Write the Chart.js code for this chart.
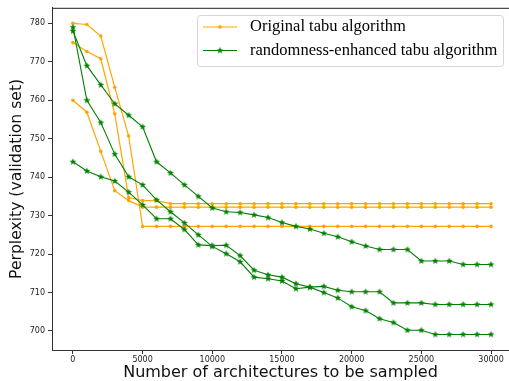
<!DOCTYPE html>
<html>
<head>
<meta charset="utf-8">
<script src="https://cdn.jsdelivr.net/npm/chart.js@4.4.1/dist/chart.umd.min.js"></script>
<style>
	html, body { margin: 0; padding: 0; background: #fff; }
	#wrap { width: 509px; height: 381px; }
</style>
</head>
<body>
<div id="wrap"><canvas id="chart" width="509" height="381"></canvas></div>
<script>
	// samples drawn (x axis)
	let steps = [0, 1000, 2000, 3000, 4000, 5000, 6000, 7000, 8000, 9000, 10000,
		11000, 12000, 13000, 14000, 15000, 16000, 17000, 18000, 19000, 20000,
		21000, 22000, 23000, 24000, 25000, 26000, 27000, 28000, 29000, 30000]

	// original tabu runs
	let tabuA = [780, 779.7, 776.7, 763.4, 750.7, 727.2, 727.2, 727.2, 727.2, 727.2, 727.2,
		727.2, 727.2, 727.2, 727.2, 727.2, 727.2, 727.2, 727.2, 727.2, 727.2,
		727.2, 727.2, 727.2, 727.2, 727.2, 727.2, 727.2, 727.2, 727.2, 727.2]
	let tabuB = [775, 772.7, 770.8, 756.5, 734.7, 733.9, 733.9, 733.1, 733.1, 733.1, 733.1,
		733.1, 733.1, 733.1, 733.1, 733.1, 733.1, 733.1, 733.1, 733.1, 733.1,
		733.1, 733.1, 733.1, 733.1, 733.1, 733.1, 733.1, 733.1, 733.1, 733.1]
	let tabuC = [760, 756.9, 746.7, 736.5, 733.9, 732.2, 732.2, 732.2, 732.2, 732.2, 732.2,
		732.2, 732.2, 732.2, 732.2, 732.2, 732.2, 732.2, 732.2, 732.2, 732.2,
		732.2, 732.2, 732.2, 732.2, 732.2, 732.2, 732.2, 732.2, 732.2, 732.2]

	// randomness-enhanced runs
	let randA = [778, 769, 764, 759.1, 756.1, 753.1, 744, 741.1, 738, 735, 732,
		731, 730.8, 730.2, 729.5, 728.2, 727.2, 726.5, 725.4, 724.5, 723.2,
		722.1, 721.2, 721.2, 721.2, 718.2, 718.2, 718.2, 717.3, 717.3, 717.3]
	let randB = [779, 760, 754.2, 746, 740.1, 738, 734.1, 731, 728.1, 725, 722,
		720.1, 718, 714, 713.6, 713, 711, 711.4, 710, 708.6, 706.3,
		705.3, 703.2, 702.2, 700.2, 700.2, 699.1, 699.1, 699.1, 699.1, 699.1]
	let randC = [744, 741.6, 740.1, 739, 736.1, 732.8, 729.2, 729.2, 726.4, 722.4, 722.2,
		722.3, 719.6, 715.8, 714.6, 714, 712.3, 711.4, 711.6, 710.6, 710.2,
		710.2, 710.2, 707.3, 707.3, 707.3, 706.9, 706.9, 706.9, 706.9, 706.9]

	let xTicks = [0, 5000, 10000, 15000, 20000, 25000, 30000]
	let yTicks = [700, 710, 720, 730, 740, 750, 760, 770, 780]

	let ORANGE = "#ffa500"
	let GREEN = "#008000"

	function makeStar(r, color) {
		let c = document.createElement("canvas")
		let s = Math.ceil(r * 2) + 2
		c.width = s
		c.height = s
		let g = c.getContext("2d")
		g.fillStyle = color
		g.beginPath()
		for(let i=0; i<10; i++) {
			let a = -Math.PI / 2 + i * Math.PI / 5
			let rr = i % 2 ? r * 0.42 : r
			g.lineTo(s / 2 + rr * Math.cos(a), s / 2 + rr * Math.sin(a))
		}
		g.closePath()
		g.fill()
		return c
	}
	let star = makeStar(3.6, GREEN)

	function pts(ys) {
		return ys.map(function(y, i) { return {x: steps[i], y: y} })
	}
	function tabuSet(ys) {
		return {
			data: pts(ys), borderColor: ORANGE, backgroundColor: ORANGE,
			borderWidth: 1.2, pointRadius: 1.8, pointBorderWidth: 0,
			pointStyle: "circle", order: 2,
		}
	}
	function randSet(ys) {
		return {
			data: pts(ys), borderColor: GREEN, backgroundColor: GREEN,
			borderWidth: 1.1, pointStyle: star, pointRadius: 3.6, order: 1,
		}
	}

	let frame = {
		id: "frame",
		afterDraw: function(chart) {
			let ctx = chart.ctx
			let a = chart.chartArea
			ctx.save()
			ctx.strokeStyle = "#222"
			ctx.lineWidth = 1
			ctx.beginPath()
			ctx.moveTo(a.left, a.top + 0.5)
			ctx.lineTo(a.right, a.top + 0.5)
			ctx.stroke()

			// legend box
			let bx = 197.5, by = 15.5, bw = 306, bh = 51, r = 3
			ctx.beginPath()
			ctx.moveTo(bx + r, by)
			ctx.arcTo(bx + bw, by, bx + bw, by + bh, r)
			ctx.arcTo(bx + bw, by + bh, bx, by + bh, r)
			ctx.arcTo(bx, by + bh, bx, by, r)
			ctx.arcTo(bx, by, bx + bw, by, r)
			ctx.closePath()
			ctx.fillStyle = "rgba(255,255,255,0.8)"
			ctx.fill()
			ctx.strokeStyle = "#d6d6d6"
			ctx.stroke()

			let rows = [
				{y: 27, color: ORANGE, text: "Original tabu algorithm", mark: "dot"},
				{y: 50.5, color: GREEN, text: "randomness-enhanced tabu algorithm", mark: "star"},
			]
			rows.forEach(function(row) {
				ctx.strokeStyle = row.color
				ctx.lineWidth = 1.2
				ctx.beginPath()
				ctx.moveTo(203, row.y)
				ctx.lineTo(237, row.y)
				ctx.stroke()
				if(row.mark === "dot") {
					ctx.fillStyle = row.color
					ctx.beginPath()
					ctx.arc(220, row.y, 1.8, 0, Math.PI * 2)
					ctx.fill()
				} else {
					ctx.drawImage(star, 220 - star.width / 2, row.y - star.height / 2)
				}
				ctx.fillStyle = "#000"
				ctx.font = '16.5px "Liberation Serif", "Times New Roman", serif'
				ctx.textBaseline = "middle"
				ctx.textAlign = "left"
				ctx.fillText(row.text, 250, row.y)
			})
			ctx.restore()
		},
	}

	let chart = new Chart(document.querySelector("#chart"), {
		type: "line",
		data: {
			datasets: [
				tabuSet(tabuA), tabuSet(tabuB), tabuSet(tabuC),
				randSet(randA), randSet(randB), randSet(randC),
			],
		},
		options: {
			responsive: false,
			animation: false,
			events: [],
			layout: { padding: { top: 6, right: 0, left: 0, bottom: 0 }, autoPadding: false },
			plugins: { legend: { display: false }, tooltip: { enabled: false } },
			elements: { line: { tension: 0 } },
			scales: {
				x: {
					type: "linear",
					min: -1500,
					max: 31290,
					afterBuildTicks: function(s) { s.ticks = xTicks.map(function(v) { return {value: v} }) },
					afterFit: function(s) { s.height = 31 },
					grid: { drawOnChartArea: false, tickLength: 4, color: "#333", tickWidth: 1 },
					border: { display: true, color: "#333", width: 1 },
					ticks: {
						color: "#222", padding: 1, maxRotation: 0, autoSkip: false,
						font: { family: "DejaVu Sans", size: 8 },
						callback: function(v) { return String(v) },
					},
					title: {
						display: true, text: "Number of architectures to be sampled", color: "#111",
						font: { family: "DejaVu Sans", size: 16, lineHeight: 1 },
						padding: { top: 0, bottom: 0 },
					},
				},
				y: {
					type: "linear",
					min: 695.05,
					max: 784.05,
					afterBuildTicks: function(s) { s.ticks = yTicks.map(function(v) { return {value: v} }) },
					afterFit: function(s) { s.width = 52 },
					grid: { drawOnChartArea: false, tickLength: 4, color: "#333", tickWidth: 1 },
					border: { display: true, color: "#333", width: 1 },
					ticks: {
						color: "#222", padding: 3, autoSkip: false,
						font: { family: "DejaVu Sans", size: 8 },
					},
					title: {
						display: true, text: "Perplexity (validation set)", color: "#111",
						font: { family: "DejaVu Sans", size: 15.6, lineHeight: 1.2 },
						padding: { top: 8, bottom: 0 },
					},
				},
			},
		},
		plugins: [frame],
	})
</script>
</body>
</html>
